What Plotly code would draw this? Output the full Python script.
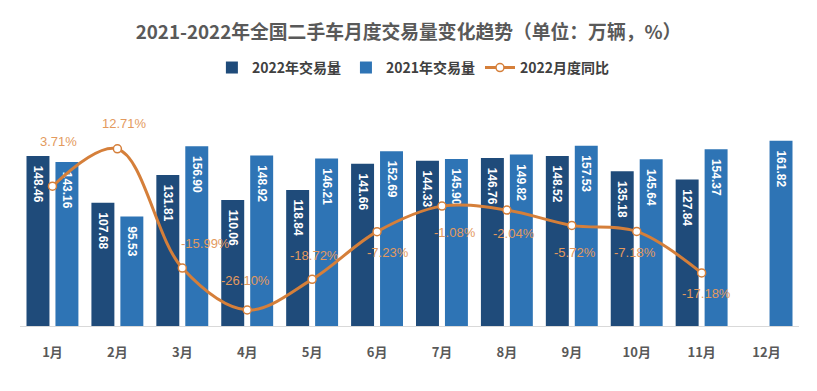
import plotly.graph_objects as go

months = ["1月", "2月", "3月", "4月", "5月", "6月", "7月", "8月", "9月", "10月", "11月", "12月"]
vol_2022 = [148.46, 107.68, 131.81, 110.06, 118.84, 141.66, 144.33, 146.76, 148.52, 135.18, 127.84]
vol_2021 = [143.16, 95.53, 156.90, 148.92, 146.21, 152.69, 145.90, 149.82, 157.53, 145.64, 154.37, 161.82]
yoy_2022 = [3.71, 12.71, -15.99, -26.10, -18.72, -7.23, -1.08, -2.04, -5.72, -7.18, -17.18]

# label offsets (pixels) for the percentage labels
lbl_dx = [6, 7, 23, -2, 2, 11, 13, 7, 3, -2, 5]
lbl_dy = [45, 25, 25, 30, 24, -21, -26, -23, -27, -21, -21]

C22 = "#1F4B7A"
C21 = "#2E74B5"
CLINE = "#D57F3A"
CLBL = "#E39A5E"
FONT = "Noto Sans CJK SC"
PAD = "\u00a0\u00a0"

fig = go.Figure()
fig.add_trace(go.Bar(
    name="2022年交易量", x=months[:len(vol_2022)], y=vol_2022,
    marker=dict(color=C22, line=dict(width=0)),
    text=[PAD + f"{v:.2f}" for v in vol_2022], textposition="inside", insidetextanchor="end",
    textangle=90, constraintext="none",
    textfont=dict(family="Liberation Sans", size=12, color="white", weight="bold"),
))
fig.add_trace(go.Bar(
    name="2021年交易量", x=months, y=vol_2021,
    marker=dict(color=C21, line=dict(width=0)),
    text=[PAD + f"{v:.2f}" for v in vol_2021], textposition="inside", insidetextanchor="end",
    textangle=90, constraintext="none",
    textfont=dict(family="Liberation Sans", size=12, color="white", weight="bold"),
))
fig.add_trace(go.Scatter(
    name="2022月度同比", x=months[:len(yoy_2022)], y=yoy_2022, yaxis="y2",
    mode="lines+markers", line=dict(color=CLINE, width=3, shape="spline", smoothing=1.0),
    marker=dict(size=8, color="white", line=dict(color=CLINE, width=1.5)),
))

for m, v, dx, dy in zip(months, yoy_2022, lbl_dx, lbl_dy):
    fig.add_annotation(x=m, y=v, yref="y2", xref="x", text=f"{v:.2f}%", showarrow=False,
                       xshift=dx, yshift=dy,
                       font=dict(family="Liberation Sans", size=13, color=CLBL))

fig.update_layout(
    width=817, height=391,
    margin=dict(l=20, r=18, t=97, b=65, autoexpand=False),
    paper_bgcolor="white", plot_bgcolor="white",
    barmode="group", bargap=0.108, bargroupgap=0.207,
    title=dict(text="<b>2021-2022年全国二手车月度交易量变化趋势（单位：万辆，%）</b>",
               x=0.5, xanchor="center", y=1 - 32 / 391, yanchor="middle",
               font=dict(family=FONT, size=18.8, color="#595959")),
    legend=dict(orientation="h", x=0.505, xanchor="center", y=1.127, yanchor="middle",
                font=dict(family=FONT, size=14, color="#404040", weight="bold"), itemwidth=30,
                traceorder="normal"),
    xaxis=dict(range=[-0.5, len(months) - 0.5], showgrid=False, showline=True,
               linecolor="#D9D9D9", linewidth=1,
               ticks="", ticklabelstandoff=14, automargin=False,
               tickfont=dict(family=FONT, size=13, color="#595959", weight="bold")),
    yaxis=dict(range=[0, 200], visible=False, showgrid=False, automargin=False),
    yaxis2=dict(range=[-29.95, 25.2], overlaying="y", visible=False, showgrid=False,
                automargin=False),
    showlegend=True,
)

fig.write_html("out.html", config={"displayModeBar": False},
               post_script="document.body.style.margin='0';")
